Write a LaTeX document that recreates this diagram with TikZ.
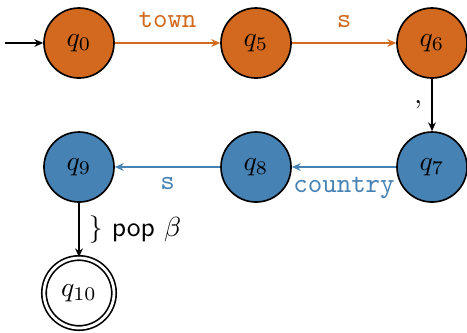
\documentclass[tikz,border=0pt]{standalone}
\usepackage{fontspec}
\usetikzlibrary{arrows.meta}
\definecolor{orng}{RGB}{210,105,30}
\definecolor{blu}{RGB}{70,130,180}
\begin{document}
\begin{tikzpicture}[x=0.3623pt,y=-0.3623pt,
  state/.style={circle,draw=black,line width=0.6pt,minimum size=70*0.3623pt,inner sep=0pt},
  ostate/.style={state,fill=orng},
  bstate/.style={state,fill=blu},
  acc/.style={state,double,double distance=1pt},
  edge/.style={line width=0.5pt,-{Stealth[length=3.2pt,width=2.8pt]}},
  lbl/.style={font=\ttfamily}]
\useasboundingbox (0,0) rectangle (467,332);
\node[ostate] (q0) at (79,43) {$q_0$};
\node[ostate] (q5) at (256,43) {$q_5$};
\node[ostate] (q6) at (432,43) {$q_6$};
\node[bstate] (q7) at (432,167) {$q_7$};
\node[bstate] (q8) at (256,167) {$q_8$};
\node[bstate] (q9) at (79,167) {$q_9$};
\node[acc] (q10) at (79,293) {$q_{10}$};
\coordinate (start) at (5,43);
\draw[edge] (start) -- (q0);
\draw[edge,orng] (q0) -- node[lbl,midway,above=2pt] {town} (q5);
\draw[edge,orng] (q5) -- node[lbl,midway,above=2pt] {s} (q6);
\draw[edge] (q6) -- node[midway,left] {,} (q7);
\draw[edge,blu] (q7) -- node[lbl,midway,below] {country} (q8);
\draw[edge,blu] (q8) -- node[lbl,midway,below] {s} (q9);
\draw[edge] (q9) -- node[midway,right] {\} \textsf{pop} $\beta$} (q10);
\end{tikzpicture}
\end{document}
